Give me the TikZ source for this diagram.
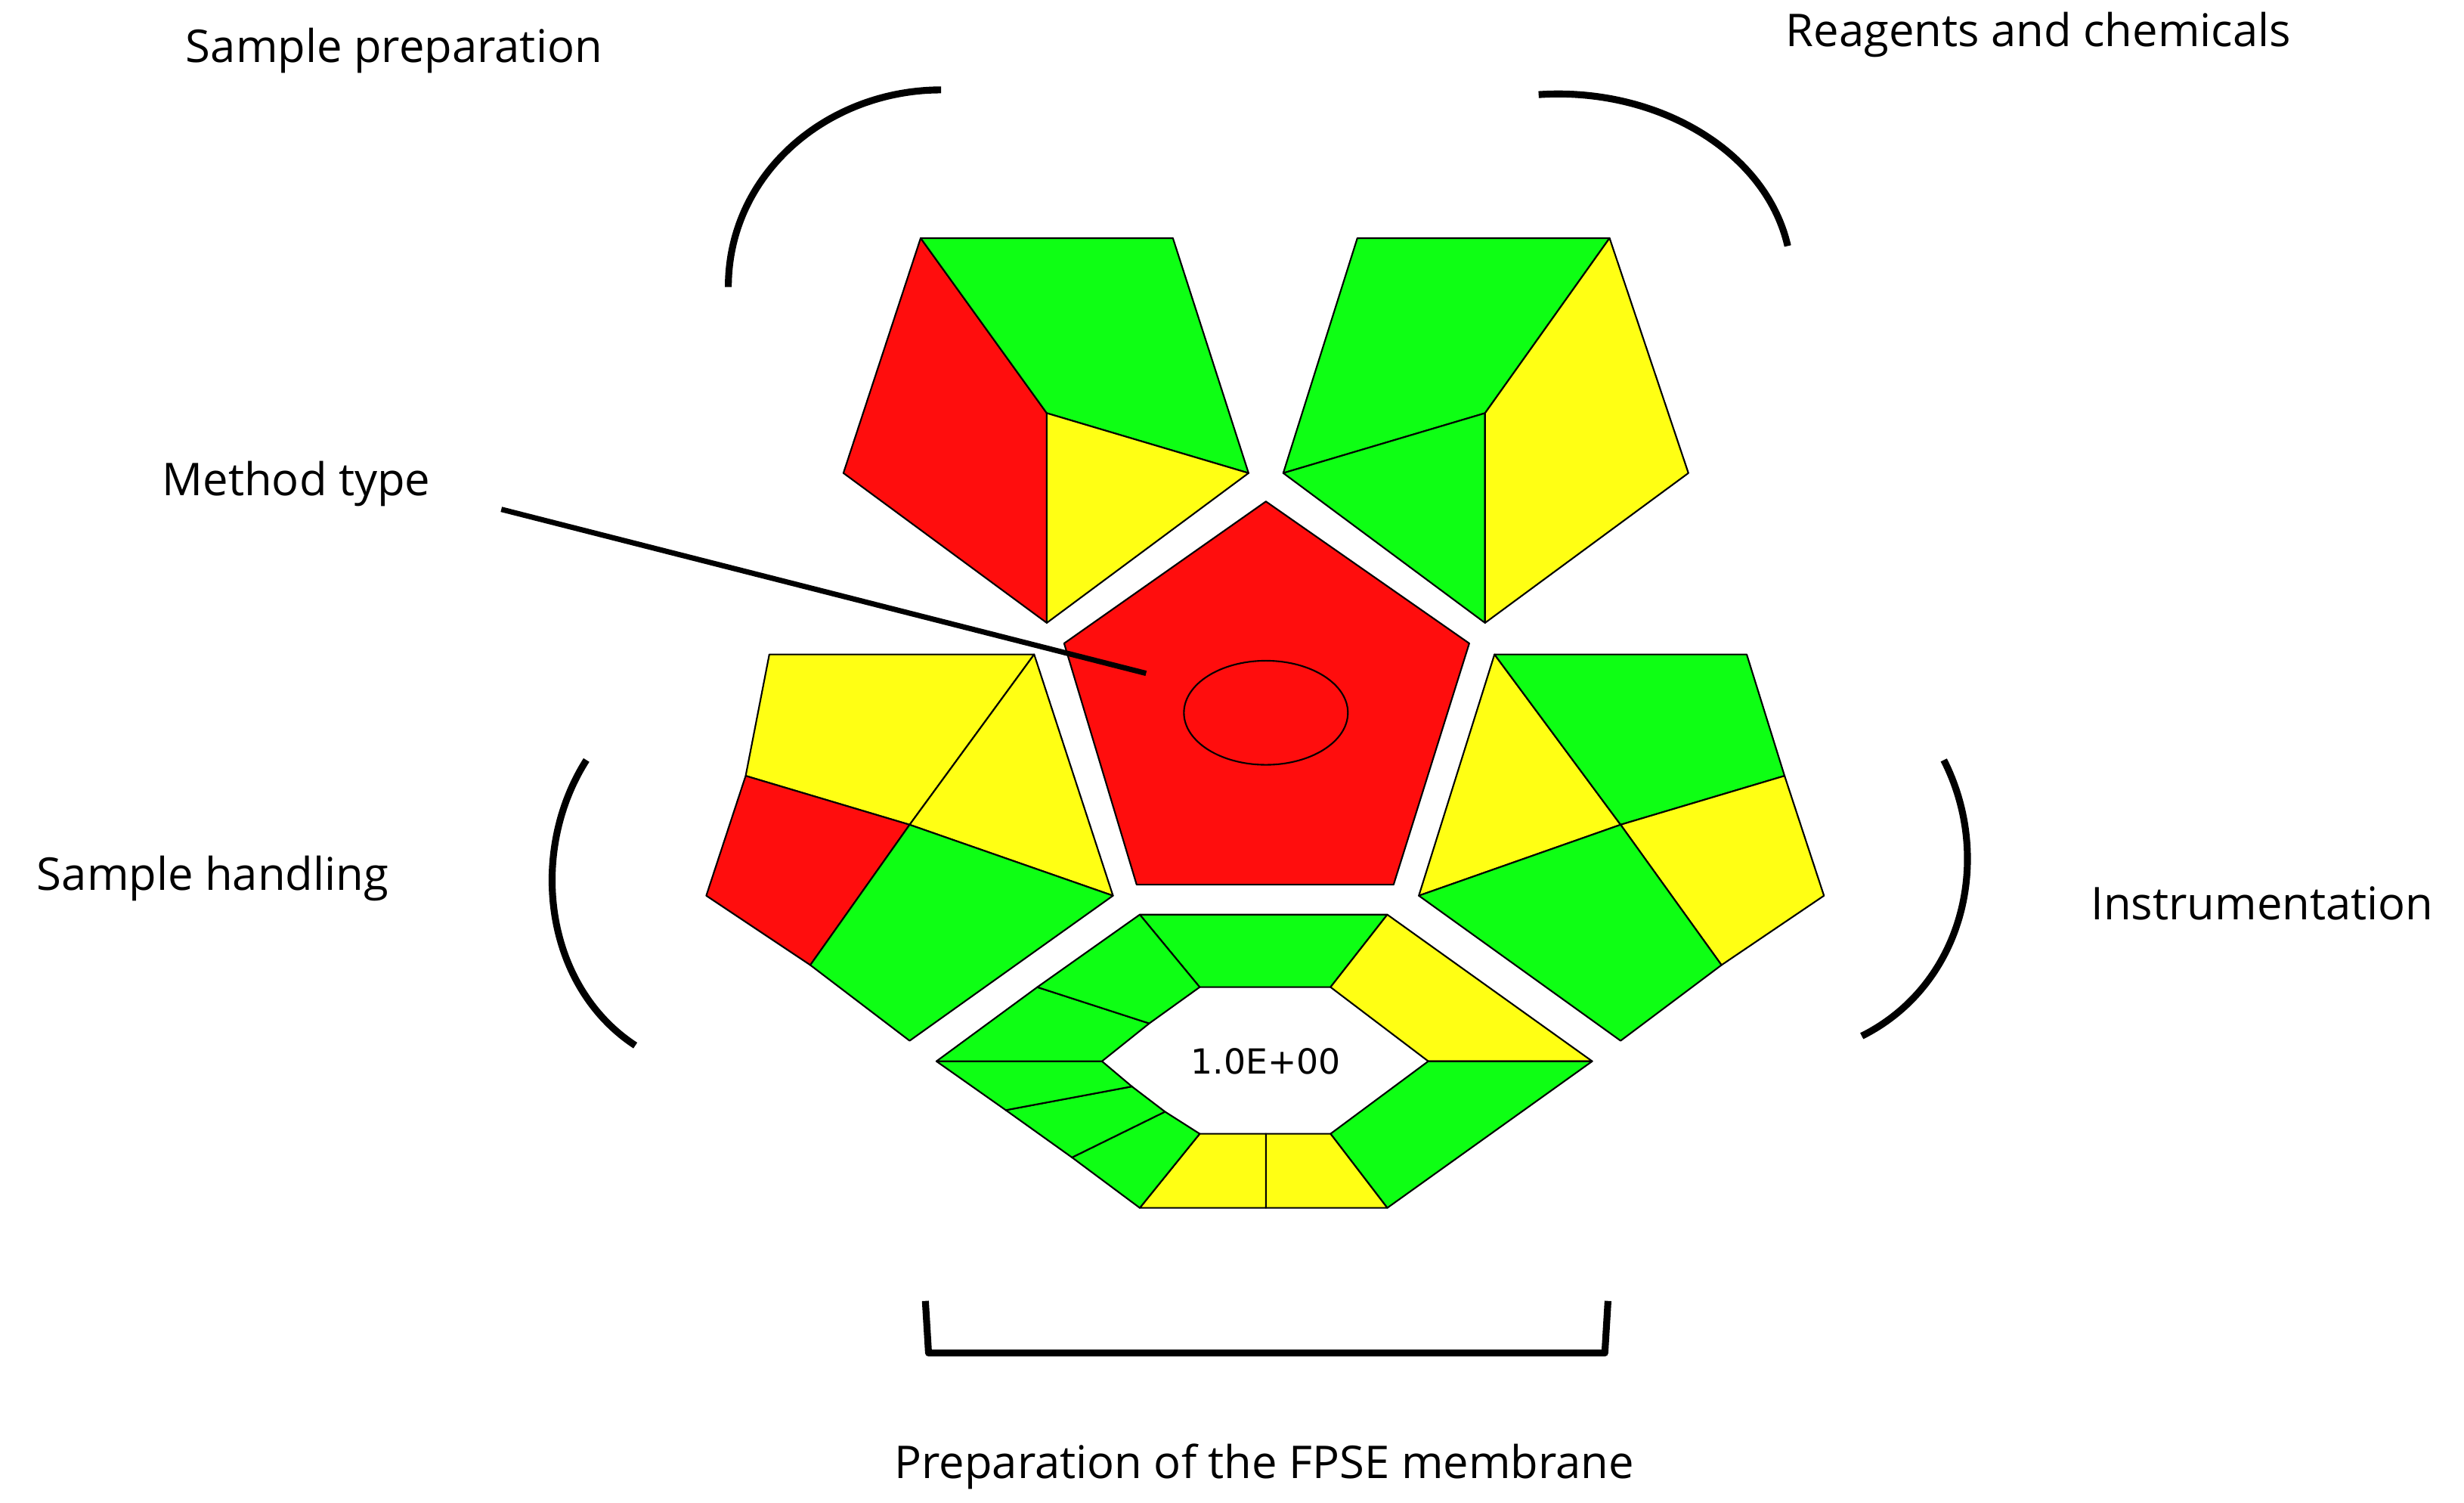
\documentclass[tikz,border=0pt]{standalone}
\usepackage{fontspec}
\setmainfont{Open Sans}
\newfontfamily\numfont{DejaVu Sans}
\definecolor{gR}{RGB}{255,13,13}
\definecolor{gG}{RGB}{14,255,20}
\definecolor{gY}{RGB}{255,255,20}
\begin{document}
\begin{tikzpicture}[x=0.020858cm,y=-0.020858cm,
  seg/.style={draw=black,line width=0.6pt,line join=round},
  R/.style={seg,fill=gR},G/.style={seg,fill=gG},Y/.style={seg,fill=gY},
  brk/.style={line width=2.6pt,line cap=butt},
  lab/.style={font=\fontsize{17}{20}\selectfont,inner sep=0pt}]
\useasboundingbox (0,0) rectangle (1563,953);
% top-left pentagon
\path[R] (584,151)--(664,262)--(664,395)--(535,300)--cycle;
\path[G] (584,151)--(744,151)--(792,300)--(664,262)--cycle;
\path[Y] (664,262)--(792,300)--(664,395)--cycle;
% top-right pentagon
\path[G] (861,151)--(1021,151)--(942,262)--(814,300)--cycle;
\path[G] (814,300)--(942,262)--(942,395)--cycle;
\path[Y] (1021,151)--(1071,300)--(942,395)--(942,262)--cycle;
% centre pentagon
\path[R] (803,318)--(932,408)--(884,561)--(721,561)--(675,408)--cycle;
\draw[line width=0.6pt] (803,452) ellipse [x radius=52,y radius=33];
% left pentagon
\path[Y] (488,415)--(656,415)--(577,523)--(473,492)--cycle;
\path[Y] (656,415)--(706,568)--(577,523)--cycle;
\path[R] (473,492)--(577,523)--(514,612)--(448,568)--cycle;
\path[G] (577,523)--(706,568)--(577,660)--(514,612)--cycle;
% right pentagon
\path[Y] (948,415)--(1028,523)--(900,568)--cycle;
\path[G] (948,415)--(1108,415)--(1132,492)--(1028,523)--cycle;
\path[Y] (1132,492)--(1157,568)--(1092,612)--(1028,523)--cycle;
\path[G] (900,568)--(1028,523)--(1092,612)--(1028,660)--cycle;
% hexagon
\path[G] (723,580)--(880,580)--(844,626)--(761,626)--cycle;
\path[Y] (880,580)--(1010,673)--(906,673)--(844,626)--cycle;
\path[G] (1010,673)--(880,766)--(844,719)--(906,673)--cycle;
\path[Y] (880,766)--(803,766)--(803,719)--(844,719)--cycle;
\path[Y] (803,766)--(723,766)--(761,719)--(803,719)--cycle;
\path[G] (723,766)--(680,734)--(739,705)--(761,719)--cycle;
\path[G] (680,734)--(638,704)--(718,689)--(739,705)--cycle;
\path[G] (638,704)--(594,673)--(699,673)--(718,689)--cycle;
\path[G] (594,673)--(658,626)--(729,649)--(699,673)--cycle;
\path[G] (658,626)--(723,580)--(761,626)--(729,649)--cycle;
\node[font=\numfont\fontsize{13}{15}\selectfont] (val) at (803,673) {1.0E+00};
% brackets
\draw[brk] (462,182) .. controls (462,110) and (525,57) .. (597,57);
\draw[brk] (976,60) .. controls (1050,55) and (1120,95) .. (1134,156);
\draw[brk] (372,482) .. controls (335,540) and (345,625) .. (403,663);
\draw[brk] (1233,482) .. controls (1265,545) and (1245,625) .. (1181,657);
\draw[brk,line join=round] (587,825)--(589,858)--(1018,858)--(1020,825);
% labels
\node[lab] (sp) at (250,32) {Sample preparation};
\node[lab] (rc) at (1293,22) {Reagents and chemicals};
\node[lab] (mt) at (188,307) {Method type};
\node[lab] (sh) at (135,557) {Sample handling};
\node[lab] (in) at (1435,573) {Instrumentation};
\node[lab] (fp) at (802,930) {Preparation of the FPSE membrane};
\coordinate (m1) at (318,323);
\coordinate (m2) at (727,427);
\draw[line width=2pt] (m1)--(m2);
\end{tikzpicture}
\end{document}
